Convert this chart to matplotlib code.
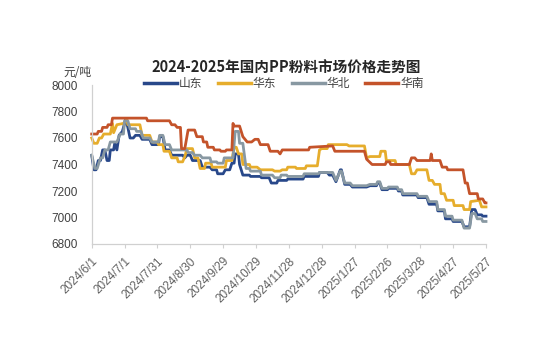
import matplotlib
matplotlib.use("Agg")
import matplotlib.pyplot as plt
import pandas as pd
from matplotlib.lines import Line2D

plt.rcParams['font.family'] = ['Liberation Sans', 'Noto Sans CJK SC', 'DejaVu Sans']

start = pd.Timestamp("2024-06-01")

# day offsets from 2024-06-01 and prices (元/吨)
sd_days = [0, 2, 4, 6, 8, 10, 12, 14, 16, 17, 20, 21, 23, 25, 28, 31, 33, 35, 38, 40, 44, 46, 53, 55, 61, 62, 65, 67, 71, 73, 83, 85, 87, 90, 92, 99, 101, 108, 110, 114, 115, 120, 122, 126, 128, 130, 131, 134, 135, 138, 144, 145, 154, 155, 162, 164, 169, 170, 178, 179, 193, 194, 207, 208, 215, 217, 220, 223, 227, 228, 231, 236, 238, 251, 254, 260, 261, 263, 265, 270, 271, 279, 280, 283, 284, 297, 298, 306, 308, 315, 316, 322, 323, 329, 330, 338, 340, 345, 347, 350, 352, 356, 357, 360]
sd_vals = [7470, 7360, 7360, 7430, 7430, 7510, 7510, 7430, 7430, 7510, 7510, 7560, 7510, 7620, 7650, 7740, 7680, 7600, 7600, 7620, 7620, 7590, 7590, 7550, 7550, 7610, 7610, 7510, 7510, 7470, 7470, 7450, 7470, 7470, 7430, 7430, 7380, 7380, 7360, 7360, 7330, 7330, 7360, 7360, 7410, 7410, 7480, 7480, 7400, 7320, 7320, 7310, 7310, 7300, 7300, 7260, 7260, 7280, 7280, 7290, 7290, 7310, 7310, 7340, 7340, 7320, 7320, 7270, 7360, 7360, 7250, 7250, 7230, 7230, 7240, 7240, 7260, 7260, 7210, 7210, 7220, 7220, 7200, 7200, 7170, 7170, 7150, 7150, 7100, 7100, 7050, 7050, 6990, 6990, 6970, 6970, 6930, 6930, 7060, 7060, 7020, 7020, 7010, 7010]

hd_days = [0, 2, 5, 7, 9, 11, 17, 19, 20, 23, 29, 32, 33, 44, 46, 53, 55, 60, 61, 65, 66, 71, 73, 78, 79, 83, 85, 87, 92, 94, 97, 99, 103, 104, 109, 110, 122, 123, 128, 130, 132, 134, 137, 138, 144, 145, 151, 154, 165, 167, 172, 174, 178, 179, 186, 187, 195, 196, 206, 208, 210, 215, 216, 233, 235, 249, 251, 254, 263, 264, 268, 269, 277, 278, 290, 292, 295, 297, 306, 308, 311, 313, 318, 319, 322, 324, 330, 331, 339, 340, 345, 346, 354, 356, 360]
hd_vals = [7600, 7560, 7560, 7600, 7600, 7630, 7630, 7710, 7640, 7700, 7710, 7740, 7700, 7700, 7620, 7620, 7570, 7570, 7550, 7550, 7500, 7500, 7450, 7450, 7420, 7420, 7460, 7520, 7520, 7450, 7450, 7370, 7370, 7410, 7410, 7380, 7380, 7430, 7430, 7530, 7530, 7480, 7480, 7400, 7400, 7380, 7380, 7360, 7360, 7350, 7350, 7360, 7360, 7380, 7380, 7370, 7370, 7390, 7390, 7510, 7520, 7520, 7550, 7550, 7540, 7540, 7450, 7460, 7460, 7500, 7500, 7430, 7430, 7400, 7400, 7330, 7330, 7360, 7360, 7280, 7280, 7250, 7250, 7180, 7180, 7130, 7130, 7090, 7090, 7060, 7060, 7120, 7130, 7080, 7080]

hb_days = [0, 3, 5, 8, 10, 12, 15, 17, 23, 26, 29, 30, 33, 35, 40, 41, 45, 47, 53, 55, 61, 62, 65, 67, 71, 73, 87, 88, 92, 94, 99, 101, 108, 109, 114, 115, 120, 121, 129, 131, 134, 135, 138, 141, 144, 145, 154, 155, 165, 167, 172, 173, 178, 179, 193, 194, 207, 208, 220, 223, 227, 228, 231, 236, 238, 251, 254, 260, 261, 263, 265, 270, 271, 279, 280, 283, 284, 297, 298, 306, 308, 315, 316, 322, 323, 329, 330, 338, 340, 345, 347, 350, 352, 356, 357, 360]
hb_vals = [7470, 7370, 7370, 7450, 7450, 7510, 7510, 7570, 7570, 7630, 7630, 7730, 7730, 7670, 7670, 7650, 7650, 7600, 7600, 7570, 7570, 7620, 7620, 7550, 7550, 7510, 7510, 7490, 7490, 7470, 7470, 7450, 7450, 7420, 7420, 7410, 7410, 7450, 7450, 7650, 7650, 7560, 7560, 7370, 7370, 7350, 7350, 7320, 7320, 7300, 7300, 7320, 7320, 7310, 7310, 7330, 7330, 7340, 7340, 7280, 7350, 7350, 7260, 7260, 7240, 7240, 7250, 7250, 7270, 7270, 7220, 7220, 7230, 7230, 7210, 7210, 7180, 7180, 7160, 7160, 7120, 7120, 7060, 7060, 7010, 7010, 6980, 6980, 6920, 6920, 7030, 7030, 6990, 6990, 6970, 6970]

hn_days = [0, 5, 6, 9, 10, 14, 15, 18, 19, 50, 51, 71, 73, 76, 78, 81, 82, 85, 88, 94, 96, 101, 102, 105, 106, 111, 112, 117, 118, 122, 123, 128, 129, 130, 135, 138, 142, 146, 149, 152, 154, 161, 163, 170, 172, 174, 198, 199, 220, 222, 249, 251, 256, 268, 269, 272, 273, 290, 292, 295, 297, 309, 310, 311, 318, 320, 324, 325, 339, 341, 343, 345, 352, 353, 357, 359, 360]
hn_vals = [7630, 7630, 7650, 7650, 7680, 7680, 7700, 7700, 7750, 7750, 7730, 7730, 7700, 7700, 7680, 7680, 7520, 7520, 7660, 7660, 7610, 7610, 7570, 7570, 7530, 7530, 7510, 7510, 7500, 7500, 7510, 7510, 7710, 7690, 7690, 7610, 7570, 7570, 7590, 7590, 7550, 7550, 7500, 7500, 7480, 7510, 7510, 7530, 7540, 7500, 7500, 7440, 7400, 7400, 7420, 7420, 7400, 7400, 7450, 7450, 7430, 7430, 7480, 7430, 7430, 7380, 7380, 7360, 7360, 7260, 7260, 7180, 7180, 7140, 7140, 7110, 7110]

series_names = ["山东", "华东", "华北", "华南"]
series_colors = ["#28488a", "#e6ad2c", "#8898a2", "#c4532a"]

tick_labels = ["2024/6/1", "2024/7/1", "2024/7/31", "2024/8/30", "2024/9/29", "2024/10/29",
               "2024/11/28", "2024/12/28", "2025/1/27", "2025/2/26", "2025/3/28", "2025/4/27", "2025/5/27"]
y_ticks = [6800, 7000, 7200, 7400, 7600, 7800, 8000]

title = "2024-2025年国内PP粉料市场价格走势图"
unit = "元/吨"

def to_dates(days):
    return start + pd.to_timedelta(days, unit="D")

fig = plt.figure(figsize=(5.35, 3.59), dpi=100)
ax = fig.add_axes([91.7 / 535, 1 - 244 / 359, (486 - 91.7) / 535, (244 - 85) / 359])

data = [(sd_days, sd_vals), (hd_days, hd_vals), (hb_days, hb_vals), (hn_days, hn_vals)]
for (d, v), name, c in zip(data, series_names, series_colors):
    ax.plot(to_dates(d), v, color=c, lw=2.0, label=name, solid_joinstyle='round', clip_on=False)

ax.set_ylim(6800, 8000)
ax.set_yticks(y_ticks)
ax.set_yticklabels([str(t) for t in y_ticks])
ax.set_xlim(start, start + pd.Timedelta(days=360))
tick_pos = [start + pd.Timedelta(days=30 * i) for i in range(len(tick_labels))]
ax.set_xticks(tick_pos)
ax.set_xticklabels(tick_labels, rotation=45, ha='right', va='top', rotation_mode='anchor')

for s in ['top', 'right']:
    ax.spines[s].set_visible(False)
for s in ['left', 'bottom']:
    ax.spines[s].set_color('#d0d0d0')
    ax.spines[s].set_linewidth(0.9)

ax.tick_params(axis='y', length=0, pad=10, labelsize=8.5, labelcolor='#404040')
ax.tick_params(axis='x', length=3, width=0.8, color='#d0d0d0', pad=5, labelsize=8.5, labelcolor='#606060')

fig.text(286 / 535, 1 - 68 / 359, title, ha='center', va='center', fontsize=10.5, fontweight='bold',
         color='#262626', family=['Noto Sans CJK SC', 'DejaVu Sans'])
fig.text(77 / 535, 1 - 72 / 359, unit, ha='center', va='center', fontsize=8.5, color='#404040',
         family=['Noto Sans CJK SC', 'DejaVu Sans'])

handles = [Line2D([0], [0], color=c, lw=2.5) for c in series_colors]
leg = fig.legend(handles, series_names, loc='center', bbox_to_anchor=(284 / 535, 1 - 84 / 359), ncol=4,
                 frameon=False, handlelength=2.8, handletextpad=0.15, columnspacing=1.3,
                 prop={'family': ['Noto Sans CJK SC', 'DejaVu Sans'], 'size': 8.5})
for t in leg.get_texts():
    t.set_color('#404040')

fig.savefig("out.png", dpi=100)
